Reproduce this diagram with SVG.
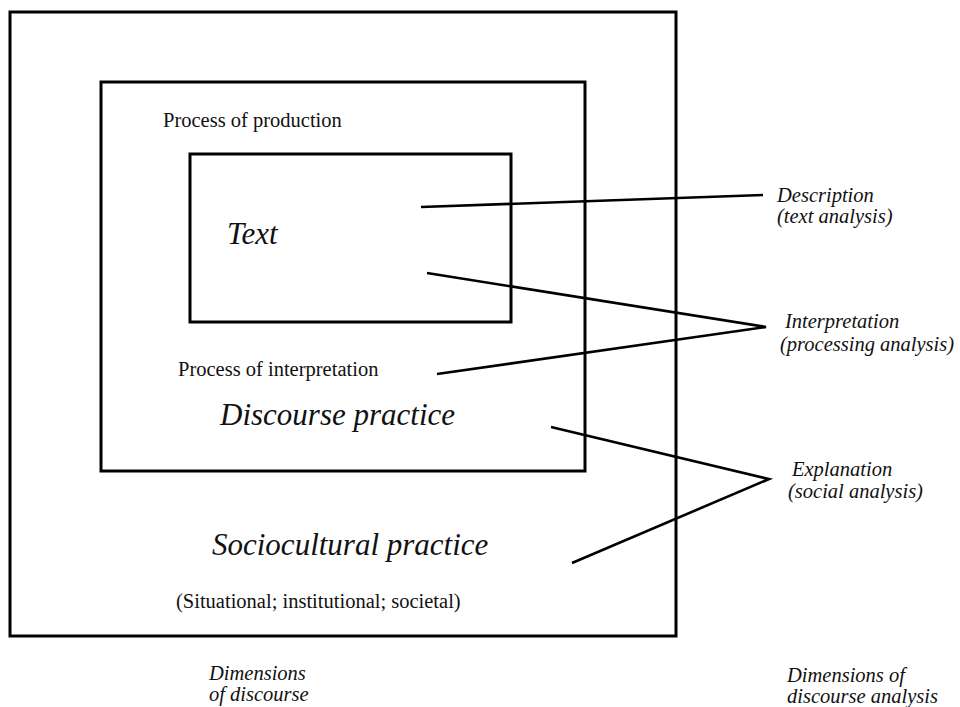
<svg xmlns="http://www.w3.org/2000/svg" width="960" height="707" viewBox="0 0 960 707">
<style>
.box{fill:none;stroke:#000;stroke-width:3}
.ln{fill:none;stroke:#000;stroke-width:2.6;stroke-linejoin:miter}
text{font-family:"Liberation Serif","Times New Roman",serif;fill:#111}
.r{font-size:20.5px}
.big{font-size:31px;font-style:italic}
.lab{font-size:20.5px;font-style:italic}
</style>
<rect width="960" height="707" fill="#fff"/>
<g id="sociocultural">
<rect class="box" x="10" y="12" width="666" height="624"/>
<text class="big" x="212" y="555">Sociocultural practice</text>
<text class="r" x="176" y="608">(Situational; institutional; societal)</text>
</g>
<g id="discourse">
<rect class="box" x="101" y="82" width="484" height="389"/>
<text class="r" x="163" y="127">Process of production</text>
<text class="r" x="178" y="376">Process of interpretation</text>
<text class="big" x="220" y="425">Discourse practice</text>
</g>
<g id="text">
<rect class="box" x="190" y="154" width="321" height="168"/>
<text class="big" x="227" y="244">Text</text>
</g>
<g id="connectors">
<polyline class="ln" points="421,207 763,195"/>
<polyline class="ln" points="427,273 766,327 437,374"/>
<polyline class="ln" points="551,427 769,479 572,563"/>
</g>
<g id="description"><text class="lab" x="777" y="202">Description</text><text class="lab" x="777" y="223">(text analysis)</text></g>
<g id="interpretation"><text class="lab" x="785" y="328">Interpretation</text><text class="lab" x="780" y="351">(processing analysis)</text></g>
<g id="explanation"><text class="lab" x="792" y="476">Explanation</text><text class="lab" x="788" y="498">(social analysis)</text></g>
<g id="dim-discourse"><text class="lab" x="209" y="680">Dimensions</text><text class="lab" x="209" y="701">of discourse</text></g>
<g id="dim-analysis"><text class="lab" x="787" y="682">Dimensions of</text><text class="lab" x="787" y="703">discourse analysis</text></g>
</svg>
